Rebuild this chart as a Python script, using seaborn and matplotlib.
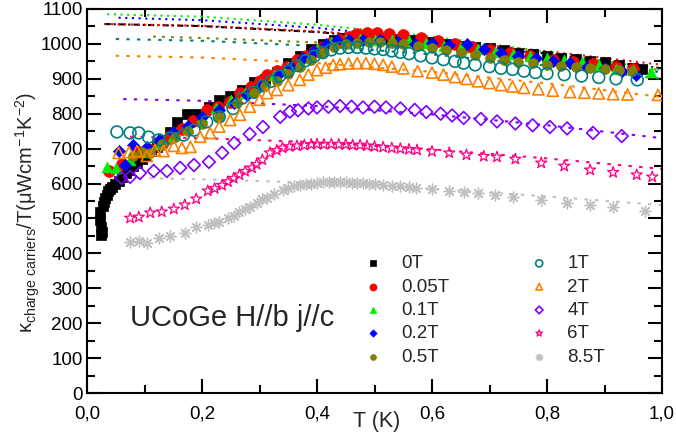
import numpy as np
import pandas as pd
import matplotlib
matplotlib.use("Agg")
import matplotlib.pyplot as plt
import seaborn as sns
from matplotlib.ticker import MultipleLocator, FixedLocator, FixedFormatter

# ---------------- data ----------------
fields = ["0T", "0.05T", "0.1T", "0.2T", "0.5T", "1T", "2T", "4T", "6T", "8.5T"]

T_0T = [0.022, 0.023, 0.024, 0.025, 0.026, 0.027, 0.029, 0.031, 0.034, 0.037, 0.040,
        0.044, 0.049, 0.055, 0.061, 0.067, 0.073, 0.080, 0.087, 0.095, 0.103, 0.112,
        0.122, 0.133, 0.144, 0.157, 0.174, 0.192, 0.212, 0.230, 0.249, 0.270, 0.290,
        0.310, 0.330, 0.350, 0.370, 0.390, 0.410, 0.430, 0.450, 0.470, 0.495, 0.520,
        0.545, 0.570, 0.600, 0.625, 0.650, 0.675, 0.700, 0.725, 0.750, 0.775, 0.800,
        0.825, 0.850, 0.875, 0.900, 0.925, 0.950, 0.965]
K_0T = [519, 496, 476, 452, 462, 535, 548, 558, 568, 578, 585,
        590, 598, 608, 620, 630, 640, 650, 660, 670, 680, 692,
        705, 725, 748, 775, 800, 798, 820, 838, 852, 868, 890,
        900, 920, 945, 965, 985, 1000, 1012, 1018, 1020, 1020, 1015,
        1015, 1012, 1005, 1000, 995, 992, 988, 982, 975, 970, 965,
        960, 957, 950, 948, 940, 932, 928]

T_005T = [0.038, 0.060, 0.090, 0.110, 0.130, 0.145, 0.165, 0.185, 0.208, 0.228, 0.249,
          0.266, 0.286, 0.300, 0.313, 0.330, 0.348, 0.365, 0.380, 0.395, 0.410, 0.425,
          0.440, 0.455, 0.470, 0.487, 0.505, 0.525, 0.550, 0.580, 0.610, 0.640, 0.670,
          0.700, 0.735, 0.770, 0.810, 0.845, 0.880, 0.920, 0.950]
K_005T = [637, 655, 690, 696, 712, 735, 755, 780, 811, 820, 835,
          859, 877, 893, 911, 922, 935, 954, 965, 977, 990, 1002,
          1012, 1020, 1028, 1031, 1030, 1028, 1026, 1017, 1008, 1000, 991,
          983, 974, 965, 955, 948, 942, 935, 928]

T_01T = [0.034, 0.050, 0.075, 0.100, 0.125, 0.150, 0.175, 0.200, 0.225, 0.250, 0.275,
         0.300, 0.325, 0.350, 0.375, 0.400, 0.425, 0.450, 0.475, 0.500, 0.530, 0.560,
         0.590, 0.620, 0.650, 0.680, 0.710, 0.740, 0.770, 0.800, 0.830, 0.860, 0.890,
         0.920, 0.950, 0.980]
K_01T = [648, 645, 668, 690, 712, 735, 760, 790, 815, 840, 860,
         885, 910, 935, 960, 985, 1005, 1012, 1015, 1012, 1010, 1008,
         1002, 995, 990, 985, 978, 972, 965, 960, 955, 948, 940,
         928, 925, 920]

T_02T = [0.055, 0.066, 0.080, 0.104, 0.125, 0.150, 0.175, 0.200, 0.230, 0.255, 0.278,
         0.300, 0.333, 0.355, 0.375, 0.395, 0.415, 0.435, 0.455, 0.480, 0.510, 0.540,
         0.570, 0.600, 0.630, 0.660, 0.690, 0.720, 0.750, 0.780, 0.810, 0.840, 0.870,
         0.900, 0.930, 0.955]
K_02T = [693, 653, 711, 705, 725, 748, 765, 790, 811, 830, 854,
         880, 911, 935, 960, 980, 1000, 1010, 1012, 1012, 1010, 1005,
         1000, 1002, 998, 1000, 985, 975, 965, 960, 950, 945, 935,
         930, 922, 912]

T_05T = [0.080, 0.095, 0.110, 0.130, 0.153, 0.175, 0.200, 0.230, 0.260, 0.290, 0.310,
         0.330, 0.350, 0.370, 0.390, 0.410, 0.430, 0.450, 0.470, 0.490, 0.510, 0.530,
         0.550, 0.575, 0.600, 0.625, 0.650, 0.675, 0.700, 0.725, 0.750, 0.775, 0.800,
         0.825, 0.850, 0.875, 0.900, 0.925, 0.948]
K_05T = [680, 690, 688, 712, 733, 750, 770, 791, 830, 860, 878,
         895, 915, 935, 955, 975, 990, 1000, 1004, 1006, 1005, 1003,
         1000, 995, 988, 982, 975, 968, 960, 955, 948, 944, 940,
         936, 934, 930, 928, 925, 922]

T_1T = [0.052, 0.075, 0.090, 0.107, 0.125, 0.145, 0.168, 0.186, 0.208, 0.230, 0.254,
        0.270, 0.290, 0.306, 0.320, 0.335, 0.350, 0.365, 0.380, 0.395, 0.410, 0.425,
        0.440, 0.455, 0.470, 0.485, 0.500, 0.515, 0.530, 0.545, 0.560, 0.580, 0.600,
        0.620, 0.640, 0.655, 0.675, 0.700, 0.720, 0.740, 0.760, 0.780, 0.800, 0.830,
        0.860, 0.890, 0.920, 0.957]
K_1T = [748, 745, 745, 733, 725, 730, 739, 753, 777, 791, 815,
        845, 862, 880, 893, 908, 922, 938, 952, 965, 975, 983,
        988, 990, 990, 988, 986, 984, 980, 976, 972, 966, 960,
        955, 950, 945, 940, 935, 930, 927, 922, 918, 915, 912,
        908, 904, 900, 897]

T_2T = [0.055, 0.073, 0.087, 0.104, 0.118, 0.133, 0.151, 0.165, 0.180, 0.197, 0.214,
        0.230, 0.249, 0.266, 0.283, 0.300, 0.313, 0.330, 0.350, 0.370, 0.385, 0.400,
        0.415, 0.428, 0.440, 0.455, 0.470, 0.485, 0.500, 0.515, 0.530, 0.550, 0.575,
        0.600, 0.620, 0.640, 0.660, 0.680, 0.700, 0.720, 0.740, 0.760, 0.785, 0.810,
        0.840, 0.865, 0.890, 0.915, 0.940, 0.993]
K_2T = [688, 690, 693, 679, 696, 693, 708, 702, 705, 734, 745,
        763, 782, 797, 820, 840, 859, 868, 882, 897, 912, 925,
        932, 940, 942, 944, 945, 945, 943, 940, 935, 930, 922,
        918, 912, 905, 900, 893, 888, 882, 878, 874, 870, 866,
        862, 860, 858, 856, 855, 854]

T_4T = [0.060, 0.075, 0.092, 0.116, 0.139, 0.162, 0.186, 0.212, 0.235, 0.256, 0.283,
        0.306, 0.336, 0.353, 0.367, 0.385, 0.400, 0.420, 0.440, 0.460, 0.480, 0.500,
        0.520, 0.545, 0.570, 0.590, 0.615, 0.635, 0.655, 0.685, 0.713, 0.745, 0.775,
        0.805, 0.835, 0.880, 0.930]
K_4T = [616, 619, 630, 636, 636, 645, 653, 662, 688, 716, 742,
        762, 791, 806, 810, 815, 818, 820, 822, 820, 818, 820,
        818, 815, 811, 805, 800, 795, 788, 785, 778, 772, 767,
        762, 758, 745, 736]

T_6T = [0.075, 0.090, 0.110, 0.130, 0.151, 0.170, 0.190, 0.210, 0.222, 0.235, 0.245,
        0.255, 0.265, 0.275, 0.287, 0.295, 0.305, 0.318, 0.330, 0.340, 0.352, 0.365,
        0.378, 0.390, 0.400, 0.412, 0.425, 0.438, 0.450, 0.462, 0.475, 0.487, 0.500,
        0.515, 0.530, 0.545, 0.560, 0.574, 0.600, 0.630, 0.660, 0.690, 0.713, 0.745,
        0.790, 0.830, 0.875, 0.915, 0.956, 0.983]
K_6T = [501, 504, 516, 519, 527, 539, 556, 579, 586, 595, 605,
        615, 625, 635, 645, 655, 668, 688, 695, 702, 706, 708,
        710, 712, 713, 712, 713, 712, 712, 710, 710, 708, 706,
        704, 702, 700, 698, 696, 692, 688, 682, 678, 676, 670,
        659, 650, 639, 632, 625, 619]

T_85T = [0.075, 0.090, 0.104, 0.125, 0.145, 0.170, 0.190, 0.210, 0.220, 0.230, 0.245,
         0.255, 0.265, 0.275, 0.284, 0.295, 0.305, 0.313, 0.325, 0.340, 0.350, 0.360,
         0.370, 0.380, 0.390, 0.400, 0.410, 0.420, 0.430, 0.440, 0.450, 0.460, 0.470,
         0.480, 0.490, 0.500, 0.515, 0.530, 0.545, 0.560, 0.573, 0.600, 0.630, 0.655,
         0.680, 0.710, 0.740, 0.790, 0.835, 0.875, 0.915, 0.970]
K_85T = [432, 435, 430, 443, 450, 458, 476, 480, 486, 490, 500,
         508, 519, 526, 533, 545, 555, 559, 570, 582, 588, 592,
         596, 598, 600, 602, 603, 604, 604, 603, 603, 602, 602,
         601, 600, 599, 596, 594, 592, 590, 587, 584, 580, 576,
         572, 567, 562, 553, 544, 538, 533, 522]

# normal-state (Fermi-liquid) extrapolation lines
L_T_0T = [0.03, 0.2, 0.4, 0.6, 0.8, 1.0];   L_K_0T = [1057, 1051, 1034, 1007, 972, 930]
L_T_005T = [0.03, 0.2, 0.4, 0.6, 0.8, 1.0]; L_K_005T = [1057, 1052, 1036, 1012, 979, 940]
L_T_01T = [0.035, 0.2, 0.4, 0.6, 0.8, 1.0]; L_K_01T = [1085, 1078, 1055, 1021, 977, 925]
L_T_02T = [0.055, 0.2, 0.4, 0.6, 0.8, 1.0]; L_K_02T = [1075, 1068, 1046, 1013, 969, 918]
L_T_05T = [0.115, 0.2, 0.4, 0.6, 0.8, 1.0]; L_K_05T = [1021, 1017, 1004, 984, 957, 925]
L_T_1T = [0.05, 0.2, 0.4, 0.6, 0.8, 1.0];   L_K_1T = [1014, 1009, 994, 970, 938, 900]
L_T_2T = [0.05, 0.2, 0.4, 0.6, 0.8, 1.0];   L_K_2T = [966, 961, 945, 920, 887, 848]
L_T_4T = [0.063, 0.2, 0.4, 0.6, 0.8, 1.0];  L_K_4T = [842, 837, 822, 798, 767, 730]
L_T_6T = [0.075, 0.2, 0.4, 0.6, 0.8, 1.0];  L_K_6T = [734, 730, 718, 698, 672, 642]
L_T_85T = [0.09, 0.2, 0.4, 0.6, 0.8, 1.0];  L_K_85T = [616, 612, 602, 585, 563, 538]

x_ticks = [0.0, 0.2, 0.4, 0.6, 0.8, 1.0]
x_tick_labels = ["0,0", "0,2", "0,4", "0,6", "0,8", "1,0"]
y_ticks = [0, 100, 200, 300, 400, 500, 600, 700, 800, 900, 1000, 1100]
y_tick_labels = ["0", "100", "200", "300", "400", "500", "600", "700", "800", "900", "1000", "1100"]

annotation = "UCoGe H//b j//c"

# ---------------- styling ----------------
sns.set_style("ticks")
plt.rcParams["font.family"] = ["Liberation Sans", "DejaVu Sans"]
plt.rcParams["mathtext.fontset"] = "custom"
plt.rcParams["mathtext.rm"] = "Liberation Sans"
plt.rcParams["mathtext.it"] = "Liberation Sans:italic"
plt.rcParams["mathtext.default"] = "regular"

series = [
    (T_0T, K_0T, L_T_0T, L_K_0T, "#000000", "s", 44, True, (0, (3, 1.5, 1, 1.5)), 0.5),
    (T_005T, K_005T, L_T_005T, L_K_005T, "#ff0000", "o", 72, True, (0, (1, 2.2)), 0.5),
    (T_01T, K_01T, L_T_01T, L_K_01T, "#00ee00", "^", 60, True, (0, (1, 2.2)), 0.5),
    (T_02T, K_02T, L_T_02T, L_K_02T, "#0000ff", "D", 38, True, (0, (1, 2.2)), 0.5),
    (T_05T, K_05T, L_T_05T, L_K_05T, "#808000", "o", 50, True, (0, (1.3, 3)), 0.5),
    (T_1T, K_1T, L_T_1T, L_K_1T, "#008080", "o", 72, False, (0, (1.6, 3.5)), 1.2),
    (T_2T, K_2T, L_T_2T, L_K_2T, "#ff8000", "^", 64, False, (0, (1.6, 3.5)), 1.2),
    (T_4T, K_4T, L_T_4T, L_K_4T, "#8000ff", "D", 42, False, (0, (1.6, 3.5)), 1.2),
    (T_6T, K_6T, L_T_6T, L_K_6T, "#ff0080", "*", 70, False, (0, (1.6, 3.5)), 0.9),
    (T_85T, K_85T, L_T_85T, L_K_85T, "#c0c0c0", (8, 2, 0), 60, False, (0, (1.6, 3.5)), 1.0),
]

fig = plt.figure(figsize=(6.76, 4.42), dpi=100)
ax = fig.add_axes([87 / 676, 49 / 442, 575 / 676, 384 / 442])

# extrapolation lines (behind markers)
for (t, k, lt, lk, col, mk, s, filled, ls, lw) in series:
    sns.lineplot(x=lt, y=lk, ax=ax, color=col, linestyle=ls, linewidth=1.5,
                 estimator=None, sort=True, zorder=1, legend=False)

# data points
for name, (t, k, lt, lk, col, mk, s, filled, ls, lw) in zip(fields, series):
    df = pd.DataFrame({"T": t, "K": k})
    if isinstance(mk, tuple):
        sns.scatterplot(data=df, x="T", y="K", ax=ax, marker=mk, s=s, color=col,
                        linewidth=lw, label=name, zorder=3)
    elif filled:
        sns.scatterplot(data=df, x="T", y="K", ax=ax, marker=mk, s=s, color=col,
                        edgecolor=col, linewidth=lw, label=name, zorder=3)
    else:
        sns.scatterplot(data=df, x="T", y="K", ax=ax, marker=mk, s=s,
                        facecolors="none", edgecolor=col, linewidth=lw,
                        label=name, zorder=3)

ax.set_xlim(0, 1.0)
ax.set_ylim(0, 1100)
ax.xaxis.set_major_locator(FixedLocator(x_ticks))
ax.xaxis.set_major_formatter(FixedFormatter(x_tick_labels))
ax.xaxis.set_minor_locator(MultipleLocator(0.1))
ax.yaxis.set_major_locator(FixedLocator(y_ticks))
ax.yaxis.set_major_formatter(FixedFormatter(y_tick_labels))
ax.yaxis.set_minor_locator(MultipleLocator(50))

for sp in ax.spines.values():
    sp.set_visible(True)
    sp.set_linewidth(1.5)
    sp.set_color("black")

ax.tick_params(which="both", direction="in", top=True, right=True,
               labeltop=False, labelright=False, width=1.5, color="black",
               labelsize=13.5, labelcolor="black")
ax.tick_params(axis="x", which="both", pad=9)
ax.tick_params(axis="y", which="both", pad=3)
ax.tick_params(which="major", length=10)
ax.tick_params(which="minor", length=5.5)

ax.set_xlabel("T (K)", fontsize=15.5)
ax.xaxis.set_label_coords(0.503, -0.047)
ax.set_ylabel("κ$_{charge\\ carriers}$/T(μWcm$^{-1}$K$^{-2}$)", fontsize=14.5)
ax.yaxis.set_label_coords(-0.078, 0.47)

ax.text(0.075, 0.174, annotation, transform=ax.transAxes, fontsize=21,
        ha="left", va="baseline")

handles, labels = ax.get_legend_handles_labels()
leg = ax.legend(handles, labels, ncol=2, loc="upper left",
                bbox_to_anchor=(0.481, 0.359), frameon=False, fontsize=13.5,
                markerscale=0.6, handlelength=1.0, handletextpad=1.0,
                columnspacing=4.3, labelspacing=0.33, borderpad=0,
                borderaxespad=0)

fig.savefig("out.png", dpi=100)
